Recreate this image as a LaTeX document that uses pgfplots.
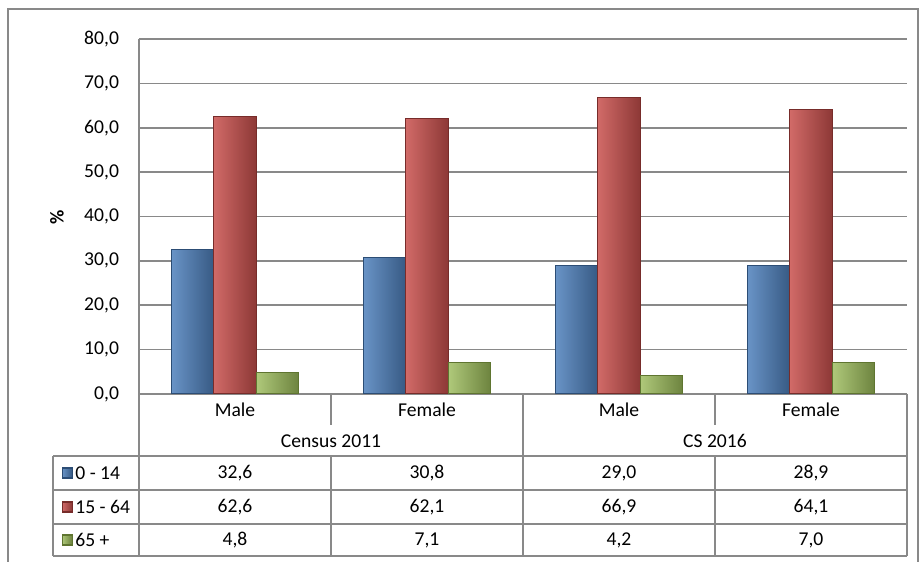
\documentclass[border=0pt]{standalone}
\usepackage{pgfplots}
\pgfplotsset{compat=1.18}
\usepackage{fontspec}
\setmainfont{Carlito}

\definecolor{gridgray}{HTML}{898989}
\definecolor{bluemain}{HTML}{4F81BD}
\definecolor{bluedark}{HTML}{2C4D75}
\definecolor{redmain}{HTML}{C9504D}
\definecolor{reddark}{HTML}{772C2A}
\definecolor{greenmain}{HTML}{9BBB59}
\definecolor{greendark}{HTML}{5F7530}

\tikzset{
  barblue/.style={draw=bluedark, line width=0.5pt, left color=bluemain!85!white, middle color=bluemain, right color=bluemain!70!black},
  barred/.style={draw=reddark, line width=0.5pt, left color=redmain!85!white, middle color=redmain, right color=redmain!70!black},
  bargreen/.style={draw=greendark, line width=0.5pt, left color=greenmain!80!white, middle color=greenmain, right color=greenmain!70!black},
}

% one bar per plot, so that each bar gets its own shading
\newcommand\agebar[4]{\addplot[#1, bar shift=#2] coordinates {(#3,#4)};}

\begin{document}
\begin{tikzpicture}[font=\fontsize{9.8}{12}\selectfont]
\begin{axis}[
  at={(69.5pt,-197pt)}, anchor=south west,
  scale only axis,
  width=384pt, height=177.5pt,
  xmin=-0.5, xmax=3.5,
  ymin=0, ymax=80,
  ytick distance=10,
  xtick=\empty,
  ybar=0pt, bar width=21.3pt,
  axis x line=bottom, axis y line=left,
  axis line style={-, draw=gridgray, line width=0.75pt},
  ymajorgrids,
  grid style={draw=gridgray, line width=0.75pt},
  major tick length=0pt,
  yticklabel style={font=\fontsize{9.8}{12}\selectfont, xshift=-6.5pt},
  /pgf/number format/.cd, fixed, fixed zerofill, precision=1, use comma, assume math mode=true,
]
% 0 - 14
\agebar{barblue}{-21.3pt}{0}{32.6}
\agebar{barblue}{-21.3pt}{1}{30.8}
\agebar{barblue}{-21.3pt}{2}{29.0}
\agebar{barblue}{-21.3pt}{3}{28.9}
% 15 - 64
\agebar{barred}{0pt}{0}{62.6}
\agebar{barred}{0pt}{1}{62.1}
\agebar{barred}{0pt}{2}{66.9}
\agebar{barred}{0pt}{3}{64.1}
% 65 +
\agebar{bargreen}{21.3pt}{0}{4.8}
\agebar{bargreen}{21.3pt}{1}{7.1}
\agebar{bargreen}{21.3pt}{2}{4.2}
\agebar{bargreen}{21.3pt}{3}{7.0}
\end{axis}

\begin{scope}[x=0.5pt, y=-0.5pt]
  % page size and outer frame
  \path (0,0) rectangle (923,562);
  \draw[gridgray, line width=0.75pt] (8,562) -- (8,9) -- (918,9) -- (918,562);
  % y axis title
  \node[rotate=90, font=\fontsize{9.8}{12}\selectfont\bfseries] at (57,217) {\%};
  % data table grid
  \begin{scope}[gridgray, line width=0.9pt]
    \draw (139,394) -- (139,556);
    \draw (907,394) -- (907,556);
    \draw (523,394) -- (523,556);
    \draw (331,394) -- (331,425);
    \draw (715,394) -- (715,425);
    \draw (331,456) -- (331,556);
    \draw (715,456) -- (715,556);
    \draw (53,456) -- (53,556);
    \foreach \yy in {456,490,524,556} \draw (53,\yy) -- (907,\yy);
  \end{scope}
  % category labels
  \node at (235,410) {Male};
  \node at (427,410) {Female};
  \node at (619,410) {Male};
  \node at (811,410) {Female};
  \node at (331,441) {Census 2011};
  \node at (715,441) {CS 2016};
  % legend keys and series names
  \shade[barblue] (62,468) rectangle (72,478);
  \shade[barred] (62,502) rectangle (72,512);
  \shade[bargreen] (62,535) rectangle (72,545);
  \draw[bluedark, line width=0.3pt] (62,468) rectangle (72,478);
  \draw[reddark, line width=0.3pt] (62,502) rectangle (72,512);
  \draw[greendark, line width=0.3pt] (62,535) rectangle (72,545);
  \node[anchor=west, inner sep=0pt] at (75,473) {0 - 14};
  \node[anchor=west, inner sep=0pt] at (75,507) {15 - 64};
  \node[anchor=west, inner sep=0pt] at (75,540) {65 +};
  % table values
  \node at (235,473) {32,6}; \node at (427,473) {30,8}; \node at (619,473) {29,0}; \node at (811,473) {28,9};
  \node at (235,507) {62,6}; \node at (427,507) {62,1}; \node at (619,507) {66,9}; \node at (811,507) {64,1};
  \node at (235,540) {4,8};  \node at (427,540) {7,1};  \node at (619,540) {4,2};  \node at (811,540) {7,0};
\end{scope}
\end{tikzpicture}
\end{document}
